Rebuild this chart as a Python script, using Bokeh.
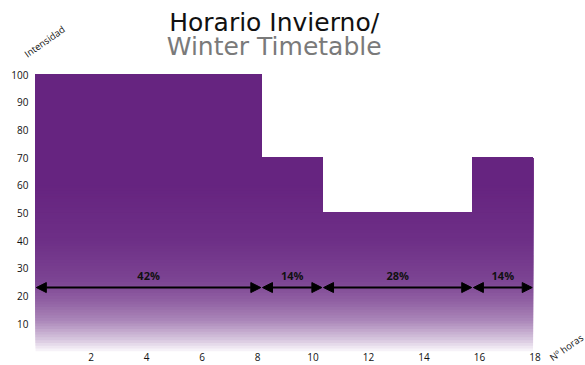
import numpy as np
from bokeh.plotting import figure
from bokeh.models import Range1d, FixedTicker, ColumnDataSource, Arrow, NormalHead, Label
from bokeh.core.properties import value
from bokeh.embed import file_html
from bokeh.resources import INLINE

# ---- data ----
seg_start = [0, 8.15, 10.35, 15.75]
seg_end = [8.15, 10.35, 15.75, 17.93]
intensity = [100, 70, 50, 70]
share_labels = ["42%", "14%", "28%", "14%"]
x_ticks = [2, 4, 6, 8, 10, 12, 14, 16, 18]
y_ticks = [10, 20, 30, 40, 50, 60, 70, 80, 90, 100]
title_es = "Horario Invierno/"
title_en = "Winter Timetable"
y_label = "Intensidad"
x_label = "Nº horas"

FONT = "Open Sans"
TITLE_FONT = "DejaVu Sans"

p = figure(width=585, height=365, x_range=Range1d(-1.2613, 19.82), y_range=Range1d(-5.17, 126.75),
           output_backend="svg", toolbar_location=None,
           min_border_left=0, min_border_right=0, min_border_top=0, min_border_bottom=0)
p.outline_line_color = None
p.xgrid.visible = False
p.ygrid.visible = False
p.background_fill_color = "white"
p.border_fill_color = "white"

# ---- gradient fill: stacked step polygons, each from a band floor up to the step outline ----
purple = np.array([0x66, 0x24, 0x80], dtype=float)
ctrl_v = [0, 4, 11, 18, 25, 40, 60]
ctrl_w = [0.97, 0.75, 0.45, 0.28, 0.15, 0.05, 0.0]
floors = list(np.arange(0, 61, 1.0))
XS, YS, C = [], [], []
for lo in floors:
    w = float(np.interp(min(lo + 0.5, 60), ctrl_v, ctrl_w))
    rgb = purple * (1 - w) + 255 * w
    C.append("#%02x%02x%02x" % tuple(int(round(c)) for c in rgb))
    xs, ys = [seg_start[0]], [lo]
    for s, e, h in zip(seg_start, seg_end, intensity):
        hh = max(h, lo)
        xs += [s, e]
        ys += [hh, hh]
    xs.append(seg_end[-1])
    ys.append(lo)
    XS.append(xs)
    YS.append(ys)
band_src = ColumnDataSource(dict(xs=XS, ys=YS, color=C))
p.patches(xs="xs", ys="ys", fill_color="color", line_color=None, source=band_src)

# ---- arrows ----
gap = 0.03
arr_src = ColumnDataSource(dict(
    xs=[s + gap for s in seg_start], xe=[e - gap for e in seg_end],
    ys=[23] * len(seg_start), ye=[23] * len(seg_start)))
p.add_layout(Arrow(x_start="xs", y_start="ys", x_end="xe", y_end="ye", source=arr_src,
                   line_width=2, line_color="black",
                   start=NormalHead(size=10, fill_color="black", line_color="black"),
                   end=NormalHead(size=10, fill_color="black", line_color="black")))

mids = [(s + e) / 2 for s, e in zip(seg_start, seg_end)]
p.text(x=mids, y=[27.3] * len(mids), text=share_labels, text_align="center", text_baseline="middle",
       text_font=value(FONT), text_font_style="bold", text_font_size="11px", text_color="#111111")

# ---- axes (fixed at the data origin, inside the full-canvas frame) ----
for ax in (p.xaxis[0], p.yaxis[0]):
    ax.fixed_location = 0
    ax.axis_line_color = None
    ax.major_tick_line_color = None
    ax.minor_tick_line_color = None
    ax.major_tick_out = 0
    ax.major_tick_in = 0
    ax.major_label_text_font = FONT
    ax.major_label_text_font_size = "10px"
    ax.major_label_text_color = "#111111"
p.xaxis.ticker = FixedTicker(ticks=x_ticks)
p.yaxis.ticker = FixedTicker(ticks=y_ticks)
p.yaxis.major_label_standoff = 7
p.xaxis.major_label_standoff = 2

# ---- titles and axis names ----
p.add_layout(Label(x=8.6, y=118.9, text=title_es, text_align="center", text_baseline="middle",
                   text_font=TITLE_FONT, text_font_size="25px", text_color="#111111"))
p.add_layout(Label(x=8.6, y=110.0, text=title_en, text_align="center", text_baseline="middle",
                   text_font=TITLE_FONT, text_font_size="25px", text_color="#7a7a7a"))
p.add_layout(Label(x=0.33, y=111.9, text=y_label, text_align="center", text_baseline="middle",
                   angle=35, angle_units="deg",
                   text_font=FONT, text_font_size="9.5px", text_color="#111111"))
p.add_layout(Label(x=19.13, y=1.3, text=x_label, text_align="center", text_baseline="middle",
                   angle=35, angle_units="deg",
                   text_font=FONT, text_font_size="9.5px", text_color="#111111"))

open("out.html", "w").write(file_html(p, INLINE))
